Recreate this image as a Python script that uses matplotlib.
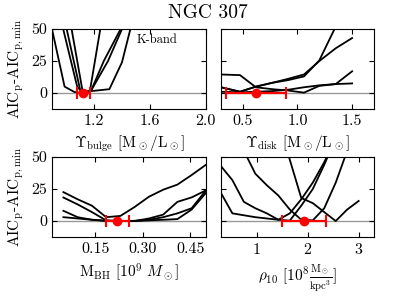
import matplotlib
matplotlib.use('Agg')
import matplotlib.pyplot as plt

plt.rcParams['font.family'] = 'serif'
plt.rcParams['font.serif'] = ['cmr10']
plt.rcParams['mathtext.fontset'] = 'cm'
plt.rcParams['axes.formatter.use_mathtext'] = True

# Upsilon bulge
ub_x = [[0.90, 0.99, 1.06, 1.12, 1.17, 1.245],
        [0.98, 1.08, 1.12, 1.18, 1.27, 1.39],
        [1.005, 1.10, 1.12, 1.18, 1.30, 1.40],
        [1.04, 1.12, 1.18, 1.31, 1.40, 1.46]]
ub_y = [[50, 5, 0.8, 0, 1, 50],
        [50, 5, 0, 2, 25, 50],
        [50, 3, 0, 2, 25, 50],
        [50, 0.5, 1.5, 3, 24, 50]]
ub_best, ub_lo, ub_hi = 1.124, 1.076, 1.171

# Upsilon disk
ud_x = [0.3, 0.475, 0.62, 0.77, 0.91, 1.06, 1.2, 1.35, 1.5]
ud_y = [[14.5, 14, 4.5, 3, 2, 0.3, 5.6, 7, 17],
        [4.5, 1, 5, 8, 11, 14.5, 25, 35, 43],
        [4.5, 1, 5, 8, 10, 13, 25.5, 52, 70],
        [1, 0.5, 1, 1.5, 2.5, 4.5, 6, 7, 7.5]]
ud_best, ud_lo, ud_hi = 0.623, 0.348, 0.898

# M_BH
bh_x = [0.05, 0.095, 0.14, 0.185, 0.23, 0.275, 0.32, 0.365, 0.41, 0.455, 0.5]
bh_y = [[22.6, 17, 12, 3, 4, 11, 19, 24.5, 28.5, 36, 44],
        [18.4, 13, 7, 0.5, 0, 0, 2, 5, 15, 18.5, 24],
        [8, 3, 1, 0.3, 0, 0.2, 1, 3, 6, 10, 24],
        [3, 2, 1, 0, 0, 0, 0.5, 1, 1.5, 9, 22]]
bh_best, bh_lo, bh_hi = 0.220, 0.185, 0.258

# rho_10
rho_x = [0.3, 0.525, 0.75, 0.975, 1.2, 1.425, 1.65, 1.875, 2.1, 2.325, 2.55, 2.775, 3.0]
rho_y = [[43, 32, 15, 10, 6, 1, 6, 17, 30, 46, 65, None, None],
         [22, 6, 4.5, 3, 2, 1, 0.3, 12, 25, 44, 65, None, None],
         [None, None, 55, 37, 28, 20, 9, 1, 0.5, 10, 30, 55, None],
         [None, None, None, None, None, 80, 48, 18, 14, 7, 0, 9, 15.7]]
rho_best, rho_lo, rho_hi = 1.927, 1.50, 2.365

fig = plt.figure(figsize=(4.16, 2.97), dpi=100)
W, H = 0.370, 0.269
ax1 = fig.add_axes([0.125, 0.633, W, H])
ax2 = fig.add_axes([0.531, 0.633, 0.368, H])
ax3 = fig.add_axes([0.125, 0.202, W, H])
ax4 = fig.add_axes([0.531, 0.202, 0.368, H])


def style(ax, best, lo, hi):
    ax.axhline(0, color='0.6', lw=1, zorder=1)
    ax.errorbar([best], [0], xerr=[[best - lo], [hi - best]], fmt='o', color='red',
                ms=6, lw=1.6, capsize=4, capthick=1.5, zorder=5)
    ax.set_ylim(-12.5, 50)
    ax.set_yticks([0, 25, 50])
    ax.tick_params(direction='in', top=True, right=True, labelsize=11.5)


for xs, ys in zip(ub_x, ub_y):
    ax1.plot(xs, ys, color='k', lw=1.3)
style(ax1, ub_best, ub_lo, ub_hi)
ax1.set_xlim(0.9, 2.0)
ax1.set_xticks([1.2, 1.6, 2.0])
ax1.set_xticklabels(['1.2', '1.6', '2.0'])
ax1.text(0.68, 0.82, 'K-band', transform=ax1.transAxes, ha='center', fontsize=9)
ax1.set_xlabel(r'$\Upsilon_{\rm bulge}$ [M$_\odot$/L$_\odot$]', fontsize=11)

for ys in ud_y:
    ax2.plot(ud_x, ys, color='k', lw=1.3)
style(ax2, ud_best, ud_lo, ud_hi)
ax2.set_xlim(0.3, 1.7)
ax2.set_xticks([0.5, 1.0, 1.5])
ax2.set_xticklabels(['0.5', '1.0', '1.5'])
ax2.set_yticklabels([])
ax2.set_xlabel(r'$\Upsilon_{\rm disk}$ [M$_\odot$/L$_\odot$]', fontsize=11)

for ys in bh_y:
    ax3.plot(bh_x, ys, color='k', lw=1.3)
style(ax3, bh_best, bh_lo, bh_hi)
ax3.set_xlim(0.014, 0.5)
ax3.set_xticks([0.15, 0.30, 0.45])
ax3.set_xticklabels(['0.15', '0.30', '0.45'])
ax3.set_xlabel(r'M$_{\rm BH}$ [10$^9$ $M_\odot$]', fontsize=11)

for ys in rho_y:
    ax4.plot(rho_x, [float('nan') if v is None else v for v in ys], color='k', lw=1.3)
style(ax4, rho_best, rho_lo, rho_hi)
ax4.set_xlim(0.3, 3.3)
ax4.set_xticks([1, 2, 3])
ax4.set_yticklabels([])
ax4.set_xlabel(r'$\rho_{10}$ [10$^8\frac{\rm M_\odot}{\rm kpc^3}$]', fontsize=11)

for ax in (ax1, ax3):
    ax.set_ylabel(r'AIC$_{\rm p}$-AIC$_{\rm p,min}$', fontsize=11)
    ax.set_yticklabels(['0', '25', '50'])

fig.suptitle('NGC 307', fontsize=14, y=0.985)
fig.savefig('out.png', dpi=100)
